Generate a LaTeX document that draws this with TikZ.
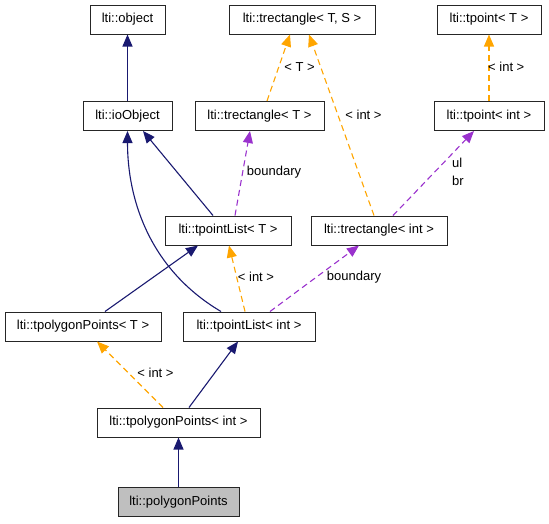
\documentclass[tikz,border=0pt]{standalone}
\usepackage{fontspec}
\setmainfont{Liberation Sans}
\usetikzlibrary{arrows.meta}
\definecolor{navyedge}{HTML}{191970}
\definecolor{orangeedge}{HTML}{FFA500}
\definecolor{purpleedge}{HTML}{9A32CD}
\definecolor{grayfill}{HTML}{BFBFBF}
\tikzset{
  cls/.style={draw=black!85, line width=1pt, rectangle, inner sep=0pt, minimum height=29pt, fill=white, font=\fontsize{13}{15}\selectfont},
  inh/.style={draw=navyedge, line width=1.1pt, -{Triangle[length=12pt,width=10pt]}},
  tmpl/.style={draw=orangeedge, line width=1.1pt, dash pattern=on 6pt off 4pt, -{Triangle[length=12pt,width=10pt]}},
  usage/.style={draw=purpleedge, line width=1.1pt, dash pattern=on 6pt off 4pt, -{Triangle[length=12pt,width=10pt]}},
  lbl/.style={inner sep=0pt, font=\fontsize{13}{15}\selectfont}
}
\begin{document}
\begin{tikzpicture}[x=1pt, y=-1pt]
\useasboundingbox (0,0) rectangle (549,523);
% nodes
\node[cls, minimum width=75pt]  (object)   at (127.5,19.5) {lti::object};
\node[cls, minimum width=146pt] (trectTS)  at (302,19.5)   {lti::trectangle< T, S >};
\node[cls, minimum width=104pt] (tpointT)  at (489,19.5)   {lti::tpoint< T >};
\node[cls, minimum width=89pt]  (ioObject) at (127.5,116)  {lti::ioObject};
\node[cls, minimum width=129pt] (trectT)   at (259.5,116)  {lti::trectangle< T >};
\node[cls, minimum width=110pt] (tpointI)  at (489,116)    {lti::tpoint< int >};
\node[cls, minimum width=126pt] (plistT)   at (228,230.5)  {lti::tpointList< T >};
\node[cls, minimum width=136pt] (trectI)   at (379,230.5)  {lti::trectangle< int >};
\node[cls, minimum width=156pt] (polyT)    at (83,326.5)   {lti::tpolygonPoints< T >};
\node[cls, minimum width=132pt] (plistI)   at (249,326.5)  {lti::tpointList< int >};
\node[cls, minimum width=163pt] (polyI)    at (178.5,422.5){lti::tpolygonPoints< int >};
\node[cls, minimum width=121pt, fill=grayfill] (poly) at (178.5,502) {lti::polygonPoints};
% edges
\draw[inh] (ioObject.north) -- (object.south);
\draw[inh] ([xshift=-15pt]plistT.north) -- ([xshift=15.5pt]ioObject.south);
\draw[inh] ([xshift=-28pt]plistI.north) .. controls +(-71,-42) and +(0,69) .. (ioObject.south);
\draw[inh] ([xshift=22pt]polyT.north) -- ([xshift=-30pt]plistT.south);
\draw[tmpl] ([xshift=-4pt]plistI.north) -- ([xshift=1pt]plistT.south);
\node[lbl] (l1) at (256,277) {< int >};
\draw[usage] ([xshift=7pt]plistT.north) -- ([xshift=-9.5pt]trectT.south);
\node[lbl] (l2) at (274,172) {boundary};
\draw[tmpl] ([xshift=7.5pt]trectT.north) -- ([xshift=-12pt]trectTS.south);
\node[lbl] (l3) at (299.5,67) {< T >};
\draw[tmpl] ([xshift=-5pt]trectI.north) -- ([xshift=7pt]trectTS.south);
\node[lbl] (l4) at (363.5,115) {< int >};
\draw[tmpl] (tpointI.north) -- (tpointT.south);
\node[lbl, anchor=west] (l5) at (488,67) {< int >};
\draw[usage] ([xshift=14pt]trectI.north) -- ([xshift=-15pt]tpointI.south);
\node[lbl, anchor=west] (l6) at (452,163) {ul};
\node[lbl, anchor=west] (l7) at (452,181) {br};
\draw[usage] ([xshift=21pt]plistI.north) -- ([xshift=-20pt]trectI.south);
\node[lbl] (l8) at (354,277) {boundary};
\draw[tmpl] ([xshift=-15.5pt]polyI.north) -- ([xshift=14pt]polyT.south);
\node[lbl] (l9) at (155.5,373) {< int >};
\draw[inh] ([xshift=10.5pt]polyI.north) -- ([xshift=-11pt]plistI.south);
\draw[inh] (poly.north) -- (polyI.south);
\end{tikzpicture}
\end{document}
